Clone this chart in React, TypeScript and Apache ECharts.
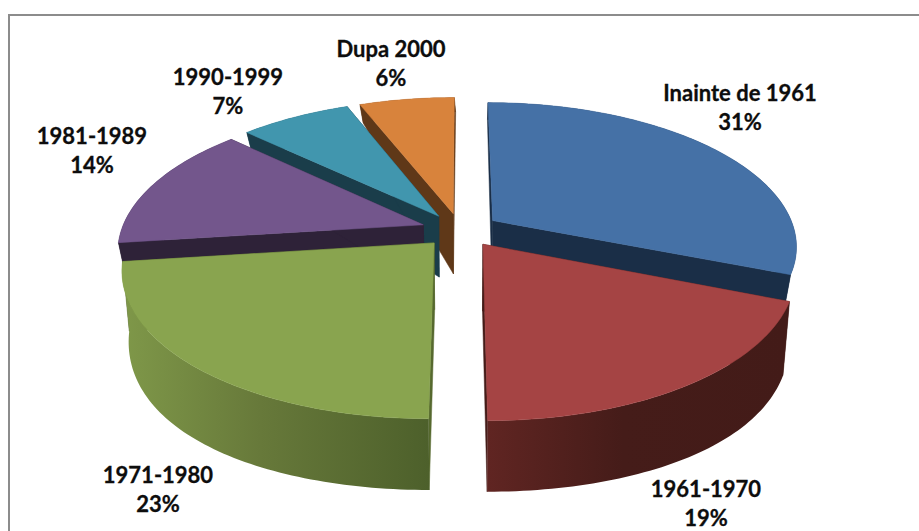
import React, { useEffect, useRef } from "react";
import * as echarts from "echarts";

const categories = ["Inainte de 1961", "1961-1970", "1971-1980", "1981-1989", "1990-1999", "Dupa 2000"];
const shares = [31, 19, 23, 14, 7, 6];
const topColors = ["#4571a6", "#a54444", "#89a44f", "#73568c", "#4196ae", "#d8833c"];
const faceColors = ["#1a2e47", "#451c19", "#56692f", "#2e2238", "#1a3d4a", "#5f3818"];
const wallStops: [string, string, string][] = [
  ["#1a2e47", "#1a2e47", "#1a2e47"],
  ["#602522", "#451c19", "#431b18"],
  ["#7f9849", "#67793a", "#4d602b"],
  ["#2e2238", "#2e2238", "#2e2238"],
  ["#1a3d4a", "#1a3d4a", "#1a3d4a"],
  ["#5f3818", "#5f3818", "#5f3818"],
];
const drawOrder = [5, 4, 3, 0, 2, 1];
const labelCentres = [
  [740, 107],
  [706, 503],
  [158, 489],
  [92, 150],
  [228, 91],
  [391, 63],
];

const CX = 460.5;
const CY = 230;
const RX = 302;
const RY = 141;
const K = 0.17;
const EXPLODE_U = 0.13;
const EXPLODE_V = 0.12;
const BACK_INSET = 0.2;
const BOTTOM_CY = 294;
const BOTTOM_RY = 171;
const BOTTOM_KY = 0.045;
const BOTTOM_RX = 296;
const BOTTOM_KX = 0.17;

const top = (u: number, v: number) => {
  const w = 1 / (1 - K * v);
  return [CX + RX * u * w, CY + RY * v * w];
};
const bottom = (u: number, v: number) => [
  CX + (BOTTOM_RX * u) / (1 - BOTTOM_KX * v),
  BOTTOM_CY + (BOTTOM_RY * v) / (1 - BOTTOM_KY * v),
];

const total = shares.reduce((a, b) => a + b, 0);

function renderSlice(_: any, api: any) {
  const i = api.value(0);
  const before = shares.slice(0, i).reduce((a, b) => a + b, 0);
  const a0 = (before / total) * Math.PI * 2;
  const a1 = ((before + shares[i]) / total) * Math.PI * 2;
  const mid = (a0 + a1) / 2;
  const ou = EXPLODE_U * Math.sin(mid);
  const ov = -EXPLODE_V * Math.cos(mid);
  const inset = ov < 0 ? BACK_INSET * ou : 0;
  const arc: number[][] = [];
  const steps = Math.max(4, Math.ceil((a1 - a0) / 0.02));
  for (let s = 0; s <= steps; s++) {
    const a = a0 + ((a1 - a0) * s) / steps;
    arc.push([ou + Math.sin(a), ov - Math.cos(a)]);
  }
  const poly = (points: number[][], fill: any, stroke?: string) => ({
    type: "polygon",
    shape: { points },
    style: { fill, stroke: stroke || fill, lineWidth: 0.5 },
    silent: true,
  });
  const topArc = arc.map((p) => top(p[0], p[1]));
  const bottomArc = arc.map((p, s) => bottom(p[0] - (ou < 0 ? inset : (inset * s) / steps), p[1]));
  const grad = new echarts.graphic.LinearGradient(0, 0, 1, 0, [
    { offset: 0, color: wallStops[i][0] },
    { offset: 0.45, color: wallStops[i][1] },
    { offset: 1, color: wallStops[i][2] },
  ]);
  const apexTop = top(ou, ov);
  const apexBottom = bottom(ou, ov);
  const [lx, ly] = labelCentres[i];
  return {
    type: "group",
    children: [
      poly([apexTop, topArc[0], bottomArc[0], apexBottom], faceColors[i]),
      poly([apexTop, topArc[topArc.length - 1], bottomArc[bottomArc.length - 1], apexBottom], faceColors[i]),
      poly([...topArc, ...bottomArc.slice().reverse()], grad, "none"),
      poly([apexTop, ...topArc], topColors[i]),
      {
        type: "text",
        silent: true,
        z2: 100,
        style: {
          x: lx,
          y: ly,
          text: `${categories[i]}\n${shares[i]}%`,
          align: "center",
          verticalAlign: "middle",
          font: "bold 22px Lato",
          lineHeight: 29,
          fill: "#0d0d0d",
          stroke: "#0d0d0d",
          lineWidth: 0.3,
        },
      },
    ],
  };
}

export default function App() {
  const ref = useRef<HTMLDivElement>(null);
  useEffect(() => {
    document.body.style.margin = "0";
    const chart = echarts.init(ref.current!, undefined, { renderer: "svg" });
    chart.setOption({
      animation: false,
      backgroundColor: "#ffffff",
      graphic: [
        {
          type: "polyline",
          silent: true,
          shape: { points: [[9, 531], [9, 15], [919, 15]] },
          style: { stroke: "#8c8c8c", lineWidth: 2, fill: "none" },
        },
      ],
      series: [
        {
          type: "custom",
          coordinateSystem: "none",
          renderItem: renderSlice,
          data: drawOrder.map((i) => [i]),
        },
      ],
    });
    return () => chart.dispose();
  }, []);
  return <div ref={ref} style={{ width: 919, height: 531 }} />;
}
